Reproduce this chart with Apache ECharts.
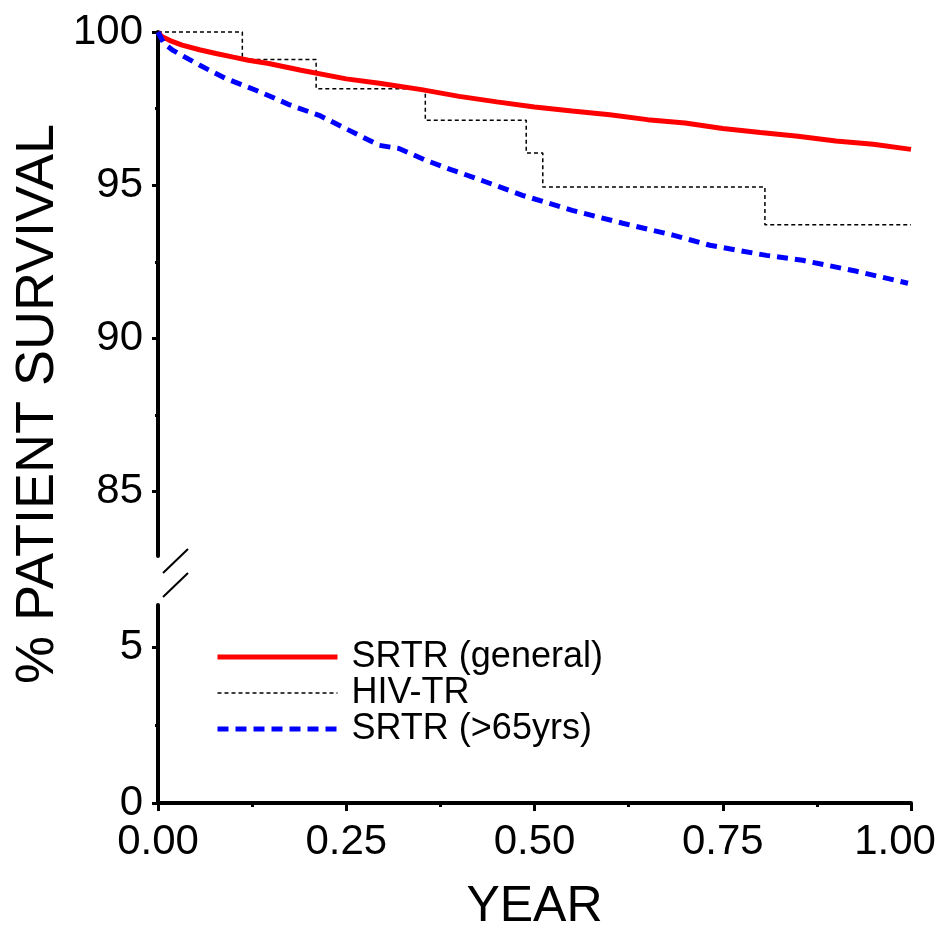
<!DOCTYPE html>
<html>
<head>
<meta charset="utf-8">
<script src="https://cdn.jsdelivr.net/npm/echarts@6/dist/echarts.min.js"></script>
<style>
html,body{margin:0;padding:0;background:#fff;overflow:hidden;}
#main{width:943px;height:928px;}
</style>
</head>
<body>
<div id="main"></div>
<script>
// ---- Data ----
const seriesNames = ['SRTR (general)', 'HIV-TR', 'SRTR (>65yrs)'];

const srtrGeneralYear = [0, 0.005, 0.016, 0.032, 0.055, 0.077, 0.10, 0.12, 0.147, 0.19, 0.25, 0.294, 0.35, 0.40, 0.45, 0.50, 0.55, 0.60, 0.65, 0.70, 0.75, 0.80, 0.85, 0.90, 0.95, 1.00];
const srtrGeneralSurv = [100, 99.85, 99.72, 99.57, 99.42, 99.30, 99.18, 99.08, 98.97, 98.75, 98.47, 98.33, 98.12, 97.90, 97.72, 97.55, 97.42, 97.30, 97.14, 97.03, 96.85, 96.72, 96.60, 96.44, 96.34, 96.17];

const hivYear = [0, 0.112, 0.21, 0.355, 0.489, 0.511, 0.806, 1.0];
const hivSurv = [100, 99.1, 98.15, 97.12, 96.05, 94.94, 93.71, 93.71];

const srtr65Year = [0, 0.008, 0.02, 0.033, 0.055, 0.07, 0.09, 0.11, 0.13, 0.152, 0.175, 0.214, 0.254, 0.294, 0.32, 0.356, 0.39, 0.423, 0.484, 0.55, 0.617, 0.684, 0.733, 0.808, 0.856, 0.928, 0.996];
const srtr65Surv = [100, 99.62, 99.4, 99.22, 98.92, 98.73, 98.48, 98.29, 98.10, 97.87, 97.62, 97.28, 96.79, 96.30, 96.20, 95.81, 95.50, 95.22, 94.67, 94.18, 93.76, 93.37, 93.04, 92.71, 92.55, 92.19, 91.80];

const yTopMajor = [85, 90, 95, 100];
const yTopMinor = [87.5, 92.5, 97.5];
const yBotMajor = [0, 5];
const yBotMinor = [2.5];
const yTopRange = [82.9, 100];
const yBotRange = [0, 6.35];
const xRange = [0, 1];

const zip = (xs, ys) => xs.map((x, i) => [x, ys[i]]);

// ---- Layout ----
const FONT = 'Liberation Sans, Arial, sans-serif';
const gridLeft = 158, gridRight = 32;
const topGrid = {left: gridLeft, right: gridRight, top: 32, height: 524};
const botGrid = {left: gridLeft, right: gridRight, top: 605, height: 198};

const axisLineStyle = {color: '#000', width: 4};
const tickStyle = {color: '#000', width: 3};

const chart = echarts.init(document.getElementById('main'), null, {renderer: 'canvas', width: 943, height: 928});

const option = {
  backgroundColor: '#fff',
  animation: false,
  textStyle: {fontFamily: FONT},
  grid: [
    Object.assign({containLabel: false, outerBoundsMode: 'none'}, topGrid),
    Object.assign({containLabel: false, outerBoundsMode: 'none'}, botGrid)
  ],
  xAxis: [
    {type: 'value', gridIndex: 0, min: xRange[0], max: xRange[1], show: false},
    {
      type: 'value', gridIndex: 1, min: xRange[0], max: xRange[1], interval: 0.25,
      axisLine: {show: true, onZero: false, lineStyle: axisLineStyle},
      axisTick: {show: true, length: 8, lineStyle: tickStyle},
      minorTick: {show: true, splitNumber: 2, length: 4, lineStyle: tickStyle},
      splitLine: {show: false},
      axisLabel: {
        color: '#000', fontSize: 42, fontFamily: FONT, margin: 18,
        formatter: v => (v >= xRange[1] ? '{last|' + v.toFixed(2) + '}' : v.toFixed(2)),
        rich: {last: {color: '#000', fontSize: 42, fontFamily: FONT, padding: [0, 32, 0, 0]}},
        showMinLabel: true, showMaxLabel: true
      },
      name: 'YEAR', nameLocation: 'middle', nameGap: 79,
      nameTextStyle: {color: '#000', fontSize: 50, fontFamily: FONT}
    }
  ],
  yAxis: [
    {
      type: 'value', gridIndex: 0, min: yTopRange[0], max: yTopRange[1], position: 'left',
      axisLine: {show: true, onZero: false, lineStyle: axisLineStyle},
      axisTick: {show: true, length: 6, lineStyle: tickStyle, customValues: yTopMajor},
      axisLabel: {color: '#000', fontSize: 42, fontFamily: FONT, margin: 15, customValues: yTopMajor},
      splitLine: {show: false}
    },
    {
      type: 'value', gridIndex: 1, min: yBotRange[0], max: yBotRange[1], position: 'left',
      axisLine: {show: true, onZero: false, lineStyle: axisLineStyle},
      axisTick: {show: true, length: 6, lineStyle: tickStyle, customValues: yBotMajor},
      axisLabel: {color: '#000', fontSize: 42, fontFamily: FONT, margin: 15, customValues: yBotMajor},
      splitLine: {show: false}
    },
    {
      type: 'value', gridIndex: 0, min: yTopRange[0], max: yTopRange[1], position: 'left', offset: 0,
      axisLine: {show: false},
      axisTick: {show: true, length: 3, lineStyle: tickStyle, customValues: yTopMinor},
      axisLabel: {show: false},
      splitLine: {show: false}
    },
    {
      type: 'value', gridIndex: 1, min: yBotRange[0], max: yBotRange[1], position: 'left', offset: 0,
      axisLine: {show: false},
      axisTick: {show: true, length: 3, lineStyle: tickStyle, customValues: yBotMinor},
      axisLabel: {show: false},
      splitLine: {show: false}
    }
  ],
  legend: {
    orient: 'vertical', left: 215, top: 639, padding: 0,
    itemWidth: 120, itemHeight: 14, itemGap: 0,
    itemStyle: {opacity: 0, color: 'transparent', borderWidth: 0},
    lineStyle: {width: 'inherit', type: 'inherit', color: 'inherit'},
    textStyle: {color: '#000', fontSize: 36, fontFamily: FONT, lineHeight: 34, padding: [0, 0, 0, 9]},
    data: seriesNames,
    selectedMode: false
  },
  series: [
    {
      name: seriesNames[0], type: 'line', xAxisIndex: 0, yAxisIndex: 0,
      data: zip(srtrGeneralYear, srtrGeneralSurv), symbol: 'none', clip: false, z: 4,
      lineStyle: {color: '#ff0000', width: 5, type: 'solid'},
      itemStyle: {color: '#ff0000'}
    },
    {
      name: seriesNames[1], type: 'line', step: 'end', xAxisIndex: 0, yAxisIndex: 0,
      data: zip(hivYear, hivSurv), symbol: 'none', clip: false, z: 3,
      lineStyle: {color: '#000', width: 1.5, type: [4, 3]},
      itemStyle: {color: '#000'}
    },
    {
      name: seriesNames[2], type: 'line', xAxisIndex: 0, yAxisIndex: 0,
      data: zip(srtr65Year, srtr65Surv), symbol: 'none', clip: false, z: 5,
      lineStyle: {color: '#0000ff', width: 5, type: [11, 7]},
      itemStyle: {color: '#0000ff'}
    }
  ],
  graphic: [
    {
      type: 'text', x: 38, y: 404, rotation: Math.PI / 2,
      style: {text: '% PATIENT SURVIVAL', fill: '#000', font: '54px ' + FONT, align: 'center', verticalAlign: 'middle'}
    },
    {
      type: 'line', shape: {x1: 163, y1: 573, x2: 188, y2: 549},
      style: {stroke: '#000', lineWidth: 2}
    },
    {
      type: 'line', shape: {x1: 163, y1: 597, x2: 188, y2: 573},
      style: {stroke: '#000', lineWidth: 2}
    }
  ]
};

chart.setOption(option);
</script>
</body>
</html>
